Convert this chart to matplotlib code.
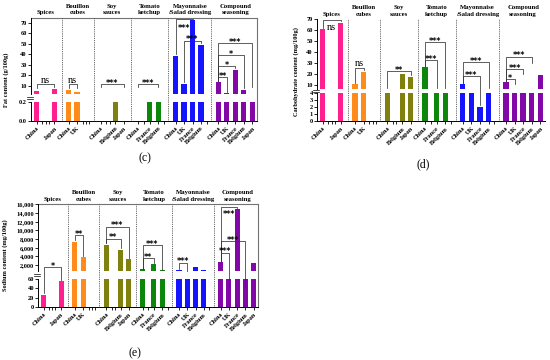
import numpy as np
import matplotlib
matplotlib.use('Agg')
import matplotlib.pyplot as plt
from matplotlib.transforms import blended_transform_factory

# ---------------- data ----------------
countries = ['China', 'UK', 'France', 'Belgium', 'Japan']
groups = ['Spices', 'Bouillon\ncubes', 'Soy\nsauces', 'Tomato\nketchup',
          'Mayonnaise\n/Salad dressing', 'Compound\nseasoning']
group_colors = ['#ff1f8e', '#ff8c1a', '#80800f', '#0c870c', '#1414ff', '#8208a8']
present = [['China', 'Japan'],
           ['China', 'UK'],
           ['China', 'Belgium', 'Japan'],
           ['China', 'France', 'Belgium'],
           ['China', 'UK', 'France', 'Belgium'],
           ['China', 'UK', 'France', 'Belgium', 'Japan']]

fat = [[5.5, 6.8], [6.2, 4.6], [0, 0.2, 0], [0, 0.5, 0.5],
       [38.4, 11.6, 72.5, 48.9], [13.5, 3.3, 25.2, 6.2, 0.5]]
carb = [[61, 67], [11, 22.3], [5, 20.6, 17.5], [26.4, 5, 5],
        [11.2, 5, 2.0, 5], [13.3, 5, 5, 5, 19.4]]
sodium = [[25, 56], [7400, 3800], [6700, 5550, 3350], [1000, 2150, 750],
          [830, 300, 1450, 850], [2750, 300, 15000, 300, 2350]]

# brackets: (group, country1, country2, y, leg1 end, leg2 end, text, text offset pt)
fat_brackets = [
    (0, 'China', 'Japan', 12, 8.5, 9, 'ns', 0),
    (1, 'China', 'UK', 12, 8.5, 8, 'ns', 0),
    (2, 'China', 'Japan', 11.5, 9, 9, '***', 0),
    (3, 'China', 'Belgium', 11.5, 9, 9, '***', 0),
    (4, 'China', 'France', 73.5, 40, 73, '***', -7),
    (4, 'UK', 'Belgium', 53, 13.5, 51, '***', 0),
    (5, 'China', 'UK', 18.2, 15, 4.5, '**', 0),
    (5, 'China', 'France', 29, 15, 27, '*', 0),
    (5, 'China', 'Belgium', 39.4, 15, 8, '*', 0),
    (5, 'China', 'Japan', 51, 15, 9, '***', 0),
]
carb_brackets = [
    (0, 'China', 'Japan', 69.5, 62.5, 68, 'ns', -8),
    (1, 'China', 'UK', 26, 12.5, 23.5, 'ns', 0),
    (2, 'China', 'Japan', 23, 7.5, 19, '**', 0),
    (3, 'China', 'France', 32.6, 27.5, 7.5, '***', 0),
    (3, 'China', 'Belgium', 49, 27.5, 7.5, '***', 0),
    (4, 'China', 'France', 18.5, 12.2, 2.3, '***', 0),
    (4, 'China', 'Belgium', 31, 12.2, 7.5, '***', 0),
    (5, 'China', 'UK', 15.6, 14.2, 11, '*', 0),
    (5, 'China', 'France', 25, 14.2, 20, '***', 0),
    (5, 'China', 'Belgium', 36, 14.2, 30, '***', 0),
]
sodium_brackets = [
    (0, 'China', 'Japan', 1500, 30, 58, '*', 0),
    (1, 'China', 'UK', 8900, 7700, 4100, '**', 0),
    (2, 'China', 'Belgium', 8070, 7000, 5800, '**', 0),
    (2, 'China', 'Japan', 10840, 7000, 3600, '***', 0),
    (3, 'China', 'France', 3550, 1150, 2350, '**', 0),
    (3, 'China', 'Belgium', 6600, 1150, 900, '***', 0),
    (4, 'China', 'UK', 2540, 950, 700, '***', 0),
    (5, 'China', 'France', 15300, 2950, 15100, '***', -6),
    (5, 'China', 'Belgium', 7540, 2950, 45, '***', 0),
    (5, 'China', 'UK', 4840, 2950, 45, '***', 0),
]

SERIF = 'Liberation Serif'

# ---------------- layout helpers ----------------
PAD, EMPTY, FULL, LEFT = 0.33, 0.37, 1.0, 0.15


def slot_layout():
    x = LEFT
    slots = []      # (group, country, center, is_present)
    seps, spans = [], []
    for g, pres in enumerate(present):
        if g > 0:
            x += PAD
            seps.append(x)
            x += PAD
        start = x
        for c in countries:
            w = FULL if c in pres else EMPTY
            slots.append((g, c, x + w / 2, c in pres))
            x += w
        spans.append((start, x))
    return slots, seps, spans, x


def make_scale(xp, fp):
    xp = np.asarray(xp, float)
    fp = np.asarray(fp, float)

    def build(a, b):
        s0 = (b[1] - b[0]) / (a[1] - a[0])
        s1 = (b[-1] - b[-2]) / (a[-1] - a[-2])

        def f(v):
            v = np.asarray(v, float)
            out = np.interp(v, a, b)
            out = np.where(v < a[0], b[0] + (v - a[0]) * s0, out)
            out = np.where(v > a[-1], b[-1] + (v - a[-1]) * s1, out)
            return out
        return f
    return build(xp, fp), build(fp, xp)


def draw_panel(fig, rect_px, values, brackets, brk_x, brk_f, low_ticks, low_labels,
               up_ticks, up_labels, ylabel, ylabel_px, frame):
    W, H = 550, 360
    l, t, r, b = rect_px
    ax = fig.add_axes([l / W, (H - b) / H, (r - l) / W, (b - t) / H])
    fwd, inv = make_scale(brk_x, brk_f)
    ax.set_yscale('function', functions=(fwd, inv))
    ax.set_ylim(0, brk_x[-1])

    slots, seps, spans, xend = slot_layout()
    ax.set_xlim(0, xend + 0.05)
    pos = {(g, c): xc for g, c, xc, p in slots}

    for g, pres in enumerate(present):
        xs = [pos[(g, c)] for c in pres]
        ax.bar(xs, values[g], width=0.62, color=group_colors[g], zorder=2, linewidth=0)

    lowtop, upbot = brk_x[1], brk_x[2]
    ax.axhspan(lowtop, upbot, color='white', zorder=2.5, lw=0)

    for s in seps:
        ax.axvline(s, color='0.2', ls=(0, (1, 1.2)), lw=0.6, zorder=3)

    # spines
    ax.spines['left'].set_visible(False)
    ax.spines['bottom'].set_linewidth(0.7)
    if frame:
        for sp in ('top', 'right'):
            ax.spines[sp].set_color('0.45')
            ax.spines[sp].set_linewidth(0.8)
    else:
        ax.spines['top'].set_visible(False)
        ax.spines['right'].set_visible(False)
    tr = blended_transform_factory(ax.transAxes, ax.transData)
    ax.plot([0, 0], [0, lowtop], color='k', lw=0.7, transform=tr, clip_on=False, zorder=5)
    ax.plot([0, 0], [upbot, brk_x[-1]], color='k', lw=0.7, transform=tr, clip_on=False, zorder=5)
    gmid = (brk_f[1] + brk_f[2]) / 2 / brk_f[-1]
    for dy in (-0.008, 0.008):
        ax.plot([-0.018, 0.008], [gmid + dy, gmid + dy], color='k', lw=0.5,
                transform=ax.transAxes, clip_on=False, zorder=5)

    ax.set_yticks(list(low_ticks) + list(up_ticks))
    ax.set_yticklabels(list(low_labels) + list(up_labels))
    ax.yaxis.set_minor_locator(matplotlib.ticker.NullLocator())
    ax.tick_params(axis='y', length=2, width=0.6, pad=1, labelsize=4.6)

    ax.set_xticks([xc for g, c, xc, p in slots])
    ax.set_xticklabels([c if p else '' for g, c, xc, p in slots], rotation=45,
                       ha='right', va='top', rotation_mode='anchor')
    ax.tick_params(axis='x', length=2, width=0.6, pad=1.5, labelsize=4.6)
    for lab in ax.get_xticklabels() + ax.get_yticklabels():
        lab.set_fontfamily(SERIF)
        lab.set_fontweight('bold')

    ttr = blended_transform_factory(ax.transData, ax.transAxes)
    for g, (s0, s1) in enumerate(spans):
        ax.text((s0 + s1) / 2, 1.025, groups[g], transform=ttr, ha='center', va='bottom',
                fontsize=4.8, fontfamily=SERIF, fontweight='bold', linespacing=1.35)

    for g, c1, c2, y, y1, y2, txt, off in brackets:
        x1, x2 = pos[(g, c1)], pos[(g, c2)]
        ax.plot([x1, x1, x2, x2], [y1, y, y, y2], color='0.2', lw=0.55, zorder=4,
                clip_on=False)
        if txt == 'ns':
            ax.annotate(txt, ((x1 + x2) / 2, y), xytext=(0, -0.5 + off),
                        textcoords='offset points', ha='center', va='bottom',
                        fontsize=7.5, fontfamily=SERIF, zorder=6)
        else:
            ax.annotate(txt, ((x1 + x2) / 2, y), xytext=(0, -2.7 + off),
                        textcoords='offset points', ha='center', va='bottom',
                        fontsize=5.8, fontfamily='DejaVu Sans', fontweight='bold', zorder=6)

    fig.text(ylabel_px[0] / W, 1 - ylabel_px[1] / H, ylabel, rotation=90, ha='center',
             va='center', fontsize=4.6, fontfamily=SERIF, fontweight='bold')
    return ax


fig = plt.figure(figsize=(5.5, 3.6), dpi=100)

draw_panel(fig, (31, 18, 257, 120.7), fat, fat_brackets,
           [0, 0.2, 2.4, 74.5], [0, 19, 26.7, 102.7],
           [0, 0.2], ['0.0', '0.2'],
           [10, 20, 30, 40, 50, 60, 70], ['10', '20', '30', '40', '50', '60', '70'],
           'Fat content (g/100g)', (6, 80), True)

draw_panel(fig, (317, 19.3, 545, 121), carb, carb_brackets,
           [0, 4, 7, 70], [0, 28, 32.4, 101.7],
           [0, 1, 2, 3, 4], ['0', '1', '2', '3', '4'],
           [10, 20, 30, 40, 50, 60, 70], ['10', '20', '30', '40', '50', '60', '70'],
           'Carbohydrate content (mg/100g)', (296, 72), False)

up_s = [2000, 4000, 6000, 8000, 10000, 12000, 14000, 16000]
draw_panel(fig, (38.3, 204.3, 258.3, 307), sodium, sodium_brackets,
           [0, 60, 600, 16000], [0, 28, 36, 102.7],
           [0, 20, 40, 60], ['0', '20', '40', '60'],
           up_s, [f'{v:,}' for v in up_s],
           'Sodium content (mg/100g)', (5, 255), True)

fig.text(145 / 550, 1 - 158 / 360, '(c)', ha='center', va='center', fontsize=8.5, fontfamily=SERIF)
fig.text(423 / 550, 1 - 164 / 360, '(d)', ha='center', va='center', fontsize=8.5, fontfamily=SERIF)
fig.text(135 / 550, 1 - 353 / 360, '(e)', ha='center', va='center', fontsize=8.5, fontfamily=SERIF)

fig.savefig('out.png', dpi=100)
